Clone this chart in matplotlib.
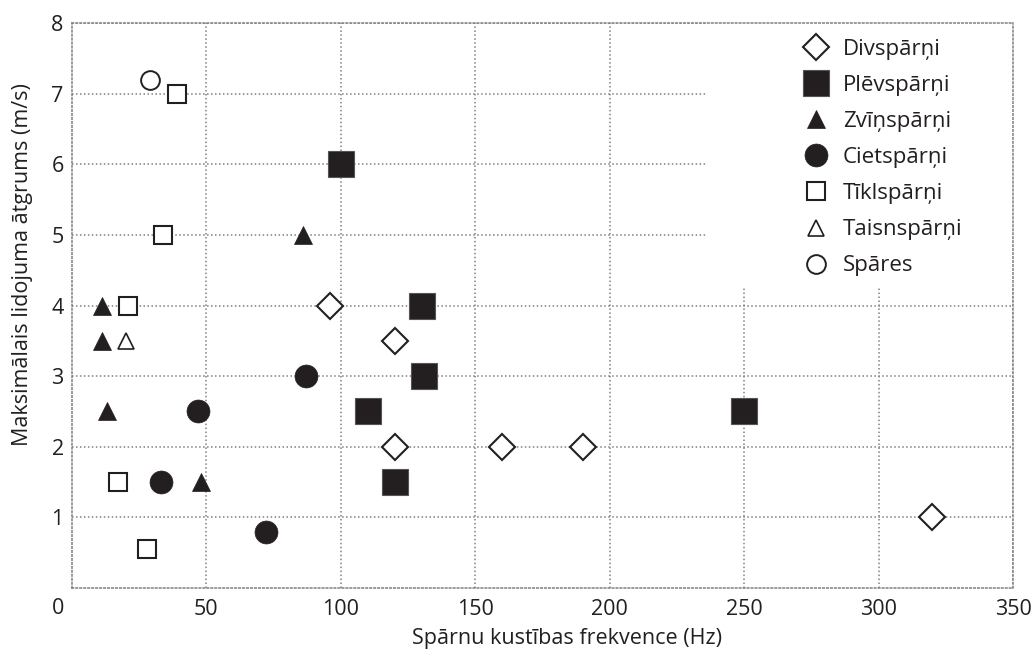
import matplotlib
matplotlib.use("Agg")
import matplotlib.pyplot as plt
from matplotlib.patches import Rectangle

plt.rcParams['font.family'] = ['Open Sans', 'DejaVu Sans']

# Data
div_x = [96, 120, 120, 160, 190, 320]
div_y = [4.0, 3.5, 2.0, 2.0, 2.0, 1.0]
plev_x = [100, 130, 131, 110, 120, 250]
plev_y = [6.0, 4.0, 3.0, 2.5, 1.5, 2.5]
zvin_x = [11, 11, 13, 48, 86]
zvin_y = [4.0, 3.5, 2.5, 1.5, 5.0]
ciet_x = [87, 47, 33, 72]
ciet_y = [3.0, 2.5, 1.5, 0.8]
tikl_x = [21, 17, 28, 34, 39]
tikl_y = [4.0, 1.5, 0.55, 5.0, 7.0]
tais_x = [20]
tais_y = [3.5]
spar_x = [29]
spar_y = [7.2]

xticks = [50, 100, 150, 200, 250, 300, 350]
yticks = [1, 2, 3, 4, 5, 6, 7, 8]

BLACK = '#231f20'
GRID = '#808080'
FS = 15.5

fig = plt.figure(figsize=(10.33, 6.57), dpi=100)
ax = fig.add_axes([72/1033, 1-588/657, (1013-72)/1033, (588-23)/657])
ax.set_xlim(0, 350)
ax.set_ylim(0, 8)
ax.set_axisbelow(True)
ax.grid(True, linestyle=(0, (1, 1.6)), color=GRID, linewidth=1.1)
for s in ax.spines.values():
    s.set_linestyle((0, (1, 1.6)))
    s.set_color(GRID)
    s.set_linewidth(1.1)
ax.tick_params(length=0, labelsize=FS, colors=BLACK)
ax.tick_params(axis='x', pad=8)
ax.tick_params(axis='y', pad=6)
ax.set_xticks(xticks)
ax.set_yticks(yticks)
ax.annotate('0', xy=(0, 0), xytext=(-14, -20), textcoords='offset pixels',
            ha='center', va='center', fontsize=FS, color=BLACK)

# white area behind legend
ax.add_patch(Rectangle((0.675, 0.531), 0.325, 0.469, transform=ax.transAxes,
                       facecolor='white', edgecolor='none', zorder=1))

kw_open = dict(linestyle='none', markerfacecolor='white', markeredgecolor=BLACK, zorder=3)
kw_fill = dict(linestyle='none', markerfacecolor=BLACK, markeredgecolor='#555555', zorder=3)
ax.plot(div_x, div_y, marker='D', markersize=13, markeredgewidth=1.5, label='Divspārņi', **kw_open)
ax.plot(plev_x, plev_y, marker='s', markersize=18.5, markeredgewidth=0.8, label='Plēvspārņi', **kw_fill)
ax.plot(zvin_x, zvin_y, marker='^', markersize=13.5, markeredgewidth=0.5, label='Zvīņspārņi',
        linestyle='none', color=BLACK, zorder=3)
ax.plot(ciet_x, ciet_y, marker='o', markersize=16.5, markeredgewidth=0.5, label='Cietspārņi',
        linestyle='none', color=BLACK, zorder=3)
ax.plot(tikl_x, tikl_y, marker='s', markersize=13.5, markeredgewidth=1.5, label='Tīklspārņi', **kw_open)
ax.plot(tais_x, tais_y, marker='^', markersize=11.5, markeredgewidth=1.2, label='Taisnspārņi', **kw_open)
ax.plot(spar_x, spar_y, marker='o', markersize=13.5, markeredgewidth=1.4, label='Spāres', **kw_open)

leg = ax.legend(loc='upper left', bbox_to_anchor=(0.774, 0.972), frameon=False,
                fontsize=16, handlelength=1.4, handletextpad=0.52, labelspacing=0.68,
                borderpad=0, borderaxespad=0, numpoints=1)
for t in leg.get_texts():
    t.set_color(BLACK)

ax.set_xlabel('Spārnu kustības frekvence (Hz)', fontsize=FS, color=BLACK)
ax.xaxis.set_label_coords(0.526, -0.0885)
ax.xaxis.label.set_va('center')
ax.set_ylabel('Maksimālais lidojuma ātgrums (m/s)', fontsize=FS, color=BLACK)
ax.yaxis.set_label_coords(-0.053, 0.572)
ax.yaxis.label.set_va('center')

fig.savefig('out.png', dpi=100)
